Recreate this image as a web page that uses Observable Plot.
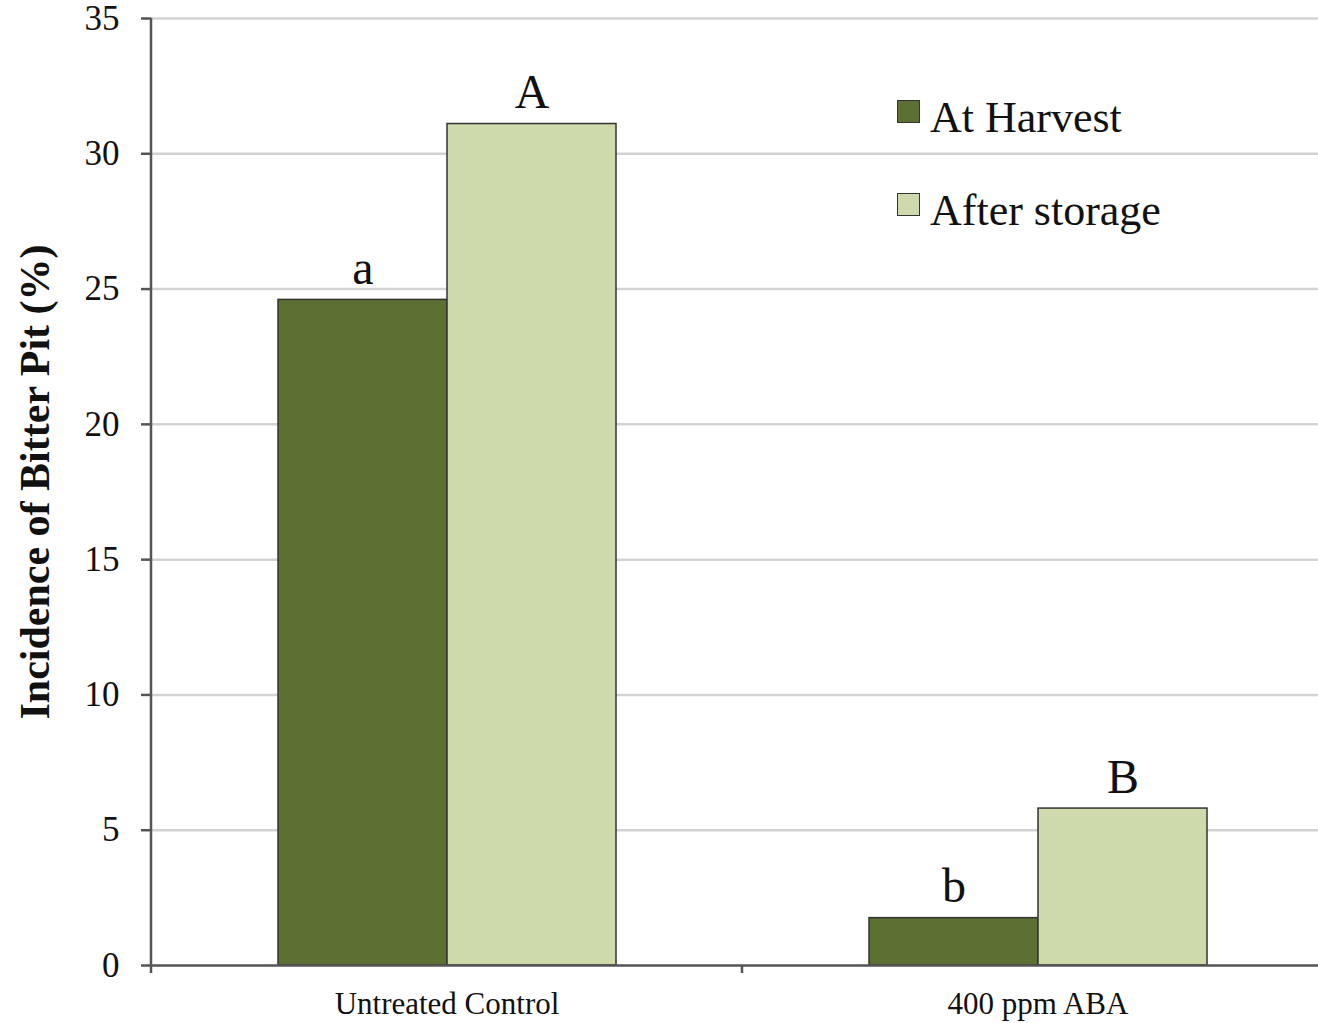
<!DOCTYPE html>
<html><head><meta charset="utf-8">
<script src="https://cdn.jsdelivr.net/npm/d3@7"></script>
<script src="https://cdn.jsdelivr.net/npm/@observablehq/plot@0.6"></script>
<style>
body{margin:0;background:#fff;}
#wrap{position:relative;width:1318px;height:1023px;overflow:hidden;}
.legend{position:absolute;left:897px;top:94px;font-family:"Liberation Serif",serif;font-size:44px;color:#111;}
.legend .row{display:flex;align-items:center;height:46px;margin-bottom:47px;}
.legend .sw{width:21px;height:21px;border:1.5px solid #333;margin-right:10px;position:relative;top:-6px;}
</style>
</head><body><div id="wrap"></div>
<script>
const categories = ["Untreated Control", "400 ppm ABA"];
const series = ["At Harvest", "After storage"];
const atHarvest = [24.6, 1.75];
const afterStorage = [31.1, 5.8];
const lettersAtHarvest = ["a", "b"];
const lettersAfterStorage = ["A", "B"];
const yTicks = [0, 5, 10, 15, 20, 25, 30, 35];
const colors = ["#5d7034", "#cedaab"];
const yLabel = "Incidence of Bitter Pit (%)";

const data = categories.flatMap((c, i) => [
  {category: c, series: series[0], value: atHarvest[i], letter: lettersAtHarvest[i]},
  {category: c, series: series[1], value: afterStorage[i], letter: lettersAfterStorage[i]}
]);

const plot = Plot.plot({
  width: 1318, height: 1023,
  marginLeft: 151, marginRight: 0, marginTop: 18, marginBottom: 58,
  style: {fontFamily: "Liberation Serif", color: "#111", background: "#fff"},
  fx: {domain: categories, range: [151, 1333], paddingInner: 0, paddingOuter: 0, label: null},
  x: {domain: series, paddingInner: 0, paddingOuter: 0.7485, axis: null},
  y: {domain: [0, 35], axis: null},
  color: {domain: series, range: colors},
  marks: [
    Plot.ruleY(yTicks.slice(1), {stroke: "#d3d3d3", strokeWidth: 2.5}),
    Plot.barY(data, {fx: "category", x: "series", y: "value", fill: "series", stroke: "#333", strokeWidth: 1.5}),
    Plot.text(data, {fx: "category", x: "series", y: "value", text: "letter", fontSize: 48, dy: -16, lineAnchor: "bottom", fill: "#111"}),
    Plot.ruleY([0], {stroke: "#555", strokeWidth: 2.5}),
    Plot.axisY({ticks: yTicks, tickSize: 10, tickPadding: 22, fontSize: 35, label: null, stroke: "#555", strokeWidth: 2.5}),
    Plot.axisFx({anchor: "bottom", tickSize: 0, tickPadding: 26, fontSize: 31, label: null}),
    Plot.text([{category: categories[0], t: yLabel}], {fx: "category", text: "t", frameAnchor: "left", textAnchor: "middle", rotate: -90, dx: -116, dy: -10, fontSize: 42, fontWeight: "bold", fill: "#111"})
  ]
});

// axis line and category-boundary tick, positioned with the plot's own scales
const fxs = plot.scale("fx"), ys = plot.scale("y");
const svg = d3.select(plot);
const g = svg.append("g").attr("stroke", "#555").attr("stroke-width", 2.5);
const y0 = ys.apply(0), yTop = ys.apply(35);
g.append("line").attr("x1", 151).attr("x2", 151).attr("y1", yTop).attr("y2", y0 + 8);
g.append("line").attr("x1", fxs.apply(categories[1])).attr("x2", fxs.apply(categories[1])).attr("y1", y0).attr("y2", y0 + 8);

const wrap = document.getElementById("wrap");
wrap.appendChild(plot);

const legend = document.createElement("div");
legend.className = "legend";
series.forEach((s, i) => {
  const row = document.createElement("div");
  row.className = "row";
  const sw = document.createElement("span");
  sw.className = "sw";
  sw.style.background = colors[i];
  const t = document.createElement("span");
  t.textContent = s;
  row.appendChild(sw); row.appendChild(t);
  legend.appendChild(row);
});
wrap.appendChild(legend);
</script>
</body></html>
